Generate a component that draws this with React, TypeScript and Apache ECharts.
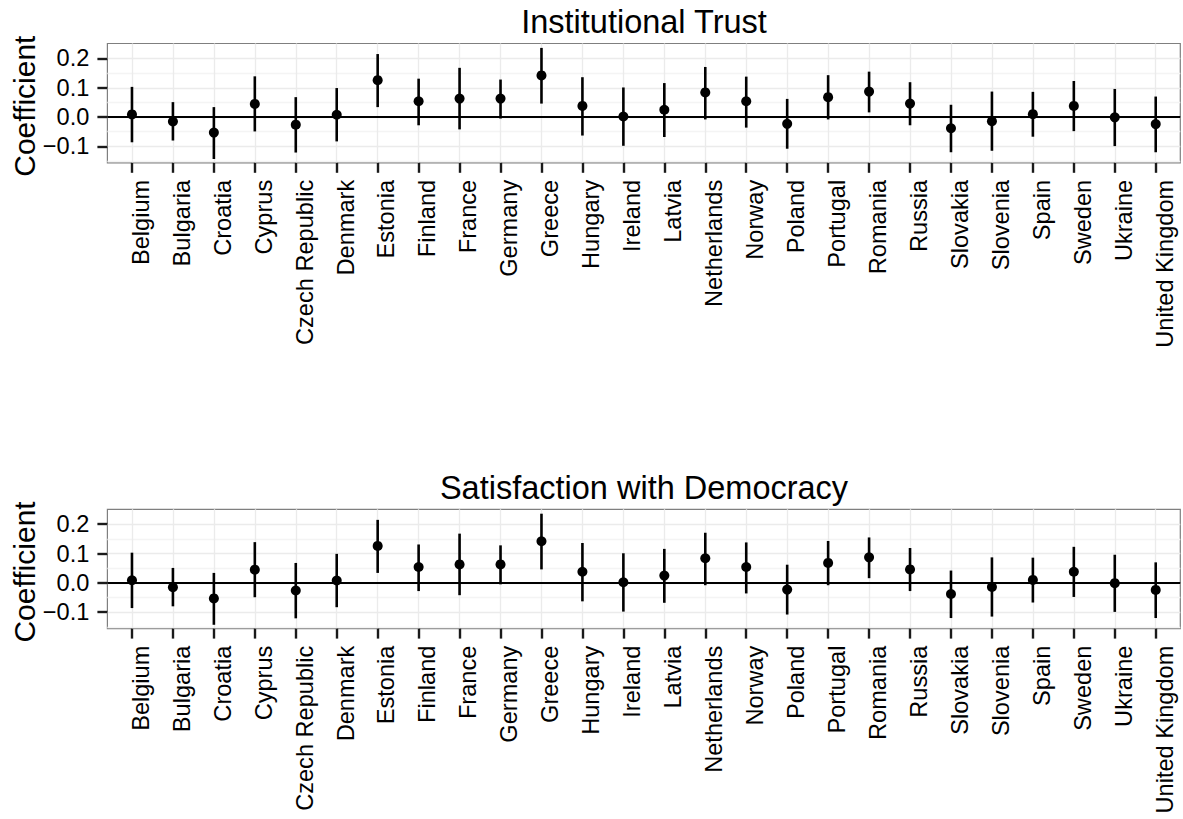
import React, { useEffect, useRef } from "react";
import * as echarts from "echarts";

const countries = [
  "Belgium", "Bulgaria", "Croatia", "Cyprus", "Czech Republic", "Denmark",
  "Estonia", "Finland", "France", "Germany", "Greece", "Hungary", "Ireland",
  "Latvia", "Netherlands", "Norway", "Poland", "Portugal", "Romania", "Russia",
  "Slovakia", "Slovenia", "Spain", "Sweden", "Ukraine", "United Kingdom",
];

const trustEst = [0.009, -0.015, -0.053, 0.045, -0.026, 0.008, 0.126, 0.054, 0.063, 0.063, 0.142, 0.038, 0.002, 0.025, 0.084, 0.054, -0.023, 0.068, 0.087, 0.046, -0.038, -0.014, 0.010, 0.038, -0.001, -0.024];
const trustLo = [-0.086, -0.080, -0.143, -0.049, -0.121, -0.083, 0.034, -0.028, -0.042, -0.005, 0.046, -0.063, -0.098, -0.068, -0.008, -0.036, -0.108, -0.008, 0.016, -0.028, -0.120, -0.115, -0.067, -0.048, -0.099, -0.120];
const trustHi = [0.103, 0.051, 0.034, 0.139, 0.068, 0.099, 0.215, 0.131, 0.168, 0.128, 0.236, 0.136, 0.101, 0.116, 0.171, 0.138, 0.062, 0.143, 0.155, 0.119, 0.042, 0.087, 0.086, 0.123, 0.096, 0.070];

const democracyEst = [0.009, -0.015, -0.053, 0.045, -0.026, 0.008, 0.126, 0.054, 0.063, 0.063, 0.142, 0.038, 0.002, 0.025, 0.084, 0.054, -0.023, 0.068, 0.087, 0.046, -0.038, -0.014, 0.010, 0.038, -0.001, -0.024];
const democracyLo = [-0.086, -0.080, -0.143, -0.049, -0.121, -0.083, 0.034, -0.028, -0.042, -0.005, 0.046, -0.063, -0.098, -0.068, -0.008, -0.036, -0.108, -0.008, 0.016, -0.028, -0.120, -0.115, -0.067, -0.048, -0.099, -0.120];
const democracyHi = [0.103, 0.051, 0.034, 0.139, 0.068, 0.099, 0.215, 0.131, 0.168, 0.128, 0.236, 0.136, 0.101, 0.116, 0.171, 0.138, 0.062, 0.143, 0.155, 0.119, 0.042, 0.087, 0.086, 0.123, 0.096, 0.070];

const panelTitles = ["Institutional Trust", "Satisfaction with Democracy"];
const yTicks = [-0.1, 0, 0.1, 0.2];
const yMinorTicks = [-0.15, -0.05, 0.05, 0.15];
const yAxisTitle = "Coefficient";

const FONT = "'Liberation Sans', Arial, Helvetica, sans-serif";

export default function App() {
  const ref = useRef<HTMLDivElement>(null);

  useEffect(() => {
    if (!ref.current) return;
    const chart = echarts.init(ref.current, undefined, { renderer: "svg" });

    const panels = [
      { est: trustEst, lo: trustLo, hi: trustHi, top: 43.5, titleTop: 5 },
      { est: democracyEst, lo: democracyLo, hi: democracyHi, top: 509.3, titleTop: 471 },
    ];
    const idx = countries.map((_, i) => i);
    const yMin = -0.156;
    const yMax = 0.251;
    const tickStyle = { color: "#1A1A1A", width: 2.4 };

    const grids: any[] = [];
    const xAxes: any[] = [];
    const yAxes: any[] = [];
    const series: any[] = [];
    const titles: any[] = [];

    panels.forEach((p, g) => {
      grids.push({
        left: 107.4,
        top: p.top,
        width: 1072.9,
        height: 119.3,
        containLabel: false,
        outerBoundsMode: "none",
        show: true,
        borderColor: "#7F7F7F",
        borderWidth: 1.2,
        backgroundColor: "#FFFFFF",
      });
      titles.push({
        text: panelTitles[g],
        left: 644,
        textAlign: "center",
        top: p.titleTop,
        padding: 0,
        textStyle: { fontFamily: FONT, fontSize: 32.5, fontWeight: "normal", color: "#000" },
      });
      xAxes.push({
        gridIndex: g,
        type: "value",
        min: -0.6,
        max: 25.6,
        position: "bottom",
        axisLine: { show: false, onZero: false },
        axisTick: { show: true, customValues: idx, length: 10, lineStyle: tickStyle },
        axisLabel: {
          customValues: idx,
          formatter: (v: number) => countries[Math.round(v)],
          rotate: 90,
          margin: 17,
          verticalAlign: "top",
          lineHeight: 17.6,
          fontFamily: FONT,
          fontSize: 23.6,
          color: "#000",
        },
        splitLine: { show: true, lineStyle: { color: "#EBEBEB", width: 1.3 } },
      });
      // major axis
      yAxes.push({
        gridIndex: g,
        type: "value",
        min: yMin,
        max: yMax,
        position: "left",
        name: yAxisTitle,
        nameLocation: "middle",
        nameGap: 68,
        nameMoveOverlap: false,
        nameTextStyle: { fontFamily: FONT, fontSize: 30, color: "#000", padding: [0, 6, 0, 0] },
        axisLine: { show: false, onZero: false },
        axisTick: { show: true, customValues: yTicks, length: 10, lineStyle: tickStyle },
        axisLabel: {
          customValues: yTicks,
          formatter: (v: number) => (v < -1e-9 ? "\u2212" : "") + Math.abs(v).toFixed(1),
          margin: 18,
          fontFamily: FONT,
          fontSize: 23.6,
          color: "#000",
        },
        splitLine: { show: true, lineStyle: { color: "#EBEBEB", width: 1.3 } },
      });
      // minor grid axis (only its grid lines are drawn)
      yAxes.push({
        gridIndex: g,
        type: "value",
        min: yMin,
        max: yMax,
        position: "right",
        axisLine: { show: false, onZero: false },
        axisTick: { show: false, customValues: yMinorTicks },
        axisLabel: { show: false, customValues: yMinorTicks },
        splitLine: { show: true, lineStyle: { color: "#F4F4F4", width: 1.3 } },
      });

      const yIdx = g * 2;
      series.push({
        type: "custom",
        xAxisIndex: g,
        yAxisIndex: yIdx,
        silent: true,
        data: idx.map((i) => [i, p.lo[i], p.hi[i]]),
        renderItem: (params: any, api: any) => {
          const x = api.value(0);
          const a = api.coord([x, api.value(1)]);
          const b = api.coord([x, api.value(2)]);
          return {
            type: "line",
            shape: { x1: a[0], y1: a[1], x2: b[0], y2: b[1] },
            style: { stroke: "#000", lineWidth: 2.6 },
          };
        },
        z: 3,
        markLine: {
          silent: true,
          symbol: "none",
          label: { show: false },
          lineStyle: { color: "#000", width: 2, type: "solid" },
          data: [{ yAxis: 0 }],
        },
      });
      series.push({
        type: "scatter",
        xAxisIndex: g,
        yAxisIndex: yIdx,
        silent: true,
        symbol: "circle",
        symbolSize: 10,
        itemStyle: { color: "#000", opacity: 1 },
        data: idx.map((i) => [i, p.est[i]]),
        z: 4,
      });
    });

    chart.setOption({
      animation: false,
      backgroundColor: "#FFFFFF",
      title: titles,
      grid: grids,
      xAxis: xAxes,
      yAxis: yAxes,
      series,
    });

    return () => chart.dispose();
  }, []);

  return (
    <div
      ref={ref}
      style={{ position: "fixed", left: 0, top: 0, width: 1183, height: 819, background: "#fff" }}
    />
  );
}
